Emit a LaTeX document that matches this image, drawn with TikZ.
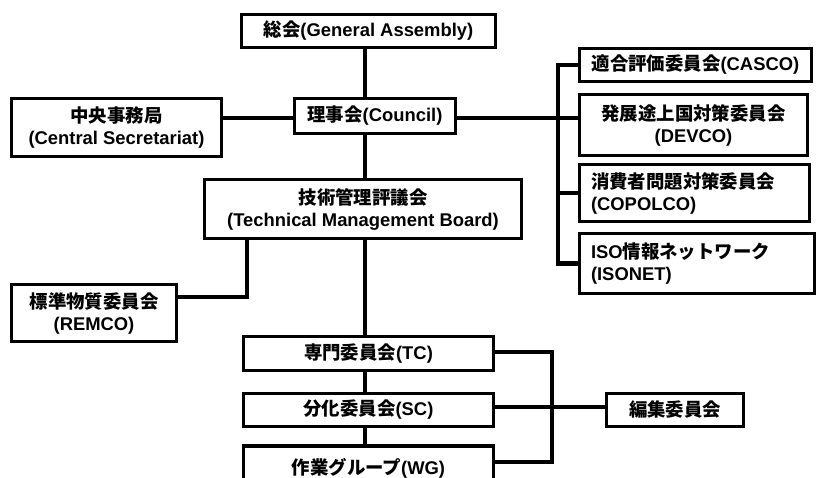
\documentclass[tikz,border=0pt]{standalone}
\usepackage{fontspec}
\setmainfont{Liberation Sans}
\newfontfamily\jpfont{Noto Sans CJK JP}
\newcommand{\J}[1]{{\jpfont\bfseries #1}}
\begin{document}
\begin{tikzpicture}[x=1pt,y=-1pt,
  bx/.style={draw=black,line width=3.3pt,fill=white,inner sep=0pt,align=center,
    font=\fontsize{18.4}{22}\selectfont\bfseries},
  ln/.style={line width=4.8pt,line cap=rect,line join=miter}]
\useasboundingbox (0,0) rectangle (817,478);
\clip (0,0) rectangle (817,478);
\fill[white] (0,0) rectangle (817,478);
% nodes
\node[bx,minimum width=253.5pt,minimum height=32.5pt] (ga) at (368.5,31) {\J{総会}(General Assembly)};
\node[bx,minimum width=160.5pt,minimum height=34.5pt] (co) at (375,116) {\J{理事会}(Council)};
\node[bx,minimum width=209.5pt,minimum height=57.5pt] (cs) at (116.5,127.5) {\J{中央事務局}\\(Central Secretariat)};
\node[bx,minimum width=231.5pt,minimum height=32.5pt] (casco) at (695.5,65) {\J{適合評価委員会}(CASCO)};
\node[bx,minimum width=227.5pt,minimum height=60.5pt] (devco) at (693.5,125) {\J{発展途上国対策委員会}\\(DEVCO)};
\node[bx,minimum width=229.5pt,minimum height=56.5pt,align=left,text width=207pt] (copolco) at (694.5,193) {\J{消費者問題対策委員会}\\(COPOLCO)};
\node[bx,minimum width=234.5pt,minimum height=59.5pt,align=left,text width=212pt] (isonet) at (697,263.5) {ISO\J{情報ネットワーク}\\(ISONET)};
\node[bx,minimum width=316.5pt,minimum height=58.5pt] (tmb) at (363,209) {\J{技術管理評議会}\\(Technical Management Board)};
\node[bx,minimum width=164.5pt,minimum height=56.5pt] (remco) at (94,313) {\J{標準物質委員会}\\(REMCO)};
\node[bx,minimum width=249.5pt,minimum height=33.5pt] (tc) at (368.5,353.5) {\J{専門委員会}(TC)};
\node[bx,minimum width=249.5pt,minimum height=32.5pt] (sc) at (368.5,410) {\J{分化委員会}(SC)};
\node[bx,minimum width=249.5pt,minimum height=44pt] (wg) at (368.5,468) {\J{作業グループ}(WG)};
\node[bx,minimum width=136.5pt,minimum height=32.5pt] (ed) at (675,410) {\J{編集委員会}};
% helper coordinates
\coordinate (sp) at (365,0);
\coordinate (rb) at (558,0);
\coordinate (rl) at (0,118);
\coordinate (rx) at (247,0);
\coordinate (rm) at (0,297);
\coordinate (bb) at (552,0);
\coordinate (tcl) at (0,352);
\coordinate (scl) at (0,407);
\coordinate (wgl) at (0,462);
% connectors
\draw[ln] (ga.south -| sp) -- (co.north -| sp);
\draw[ln] (co.south -| sp) -- (tmb.north -| sp);
\draw[ln] (tmb.south -| sp) -- (tc.north -| sp);
\draw[ln] (tc.south -| sp) -- (sc.north -| sp);
\draw[ln] (sc.south -| sp) -- (wg.north -| sp);
\draw[ln] (cs.east |- rl) -- (co.west |- rl);
\draw[ln] (co.east |- rl) -- (devco.west |- rl);
\draw[ln] (casco.west) -| (rb |- isonet.west) -- (isonet.west);
\draw[ln] (rb |- copolco.west) -- (copolco.west);
\draw[ln] (tmb.south -| rx) |- (remco.east |- rm);
\draw[ln] (tc.east |- tcl) -| (bb |- wgl) -- (wg.east |- wgl);
\draw[ln] (sc.east |- scl) -- (ed.west |- scl);
\end{tikzpicture}
\end{document}
